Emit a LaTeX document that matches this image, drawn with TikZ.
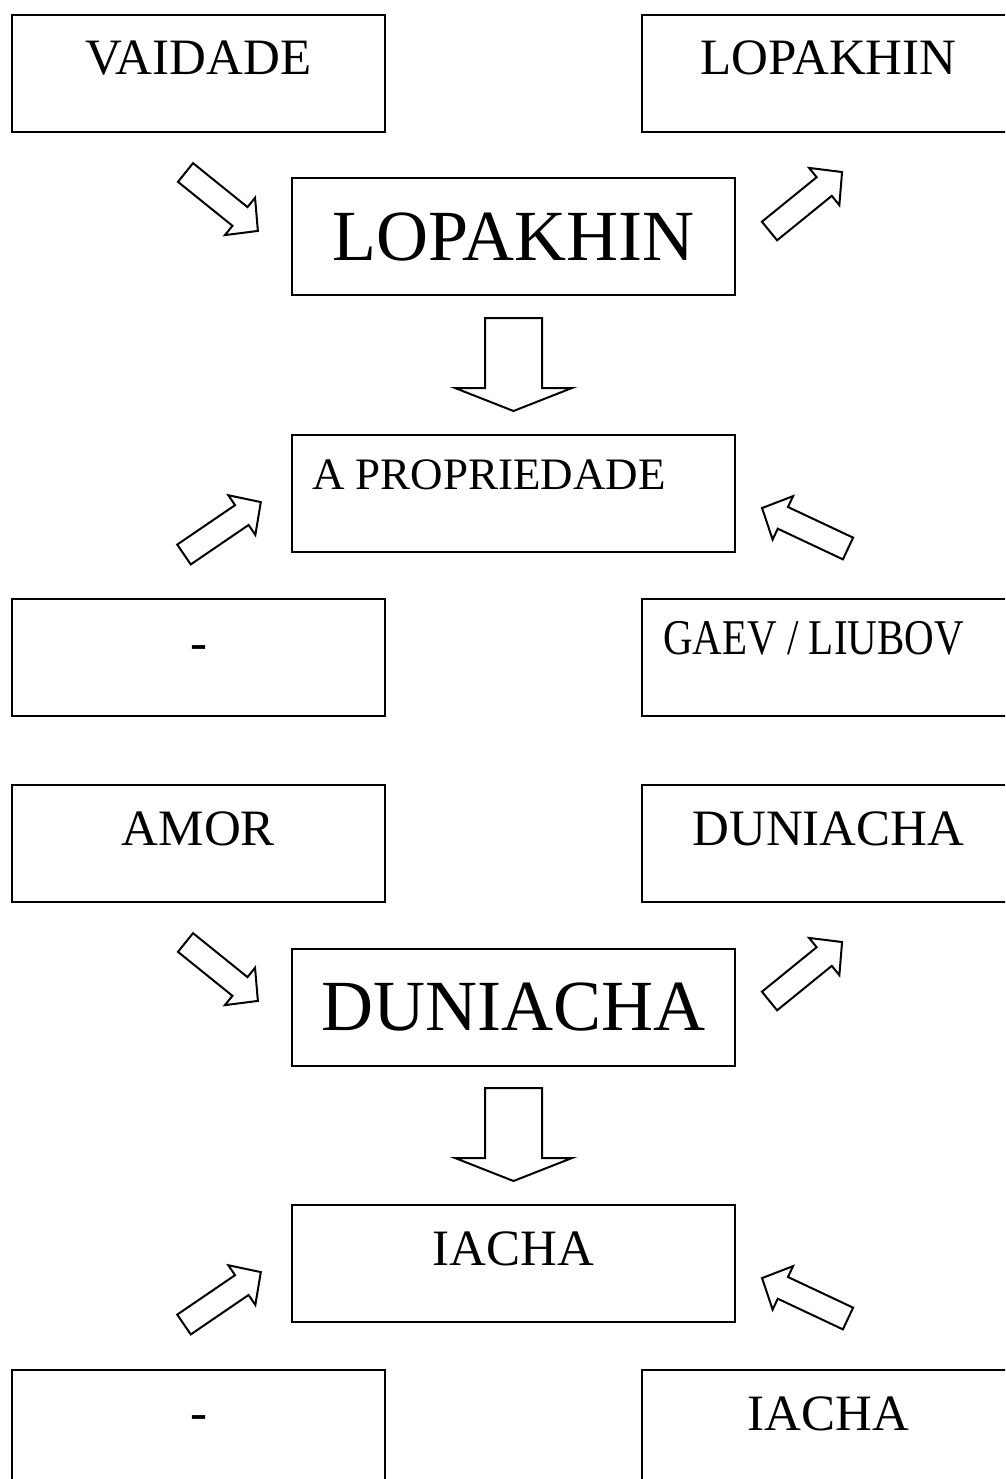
\documentclass[tikz,border=0pt]{standalone}
\usepackage{fontspec}
\setmainfont{Liberation Serif}
% hollow block arrow: tail, angle, length, shaft half width, head half width
\newcommand{\blockarr}[5]{%
  \draw[arrowshape, shift={#1}, rotate=#2] (0,-#4) -- (#3-23,-#4) -- (#3-23,-#5) -- (#3,0)
    -- (#3-23,#5) -- (#3-23,#4) -- (0,#4) -- cycle;}
\tikzset{
  box/.style={draw, line width=2pt, minimum height=117pt, inner sep=0pt},
  sidebox/.style={box, minimum width=373pt},
  midbox/.style={box, minimum width=443pt},
  txt/.style={inner sep=0pt, anchor=base, font=\fontsize{51}{60}\selectfont},
  bigtxt/.style={txt, font=\fontsize{72}{80}\selectfont},
  arrowshape/.style={line width=2pt, line join=miter}
}
\begin{document}
\begin{tikzpicture}[x=1pt, y=-1pt]
    \useasboundingbox (0,0) rectangle (1005,1479);
    \clip (0,0) rectangle (1005,1479);
    % upper part
    \node[sidebox] (vaid) at (198.5,73.5) {};
    \node[txt] (vaidT) at (198.5,75) {VAIDADE};
    \node[sidebox] (lopR) at (828.5,73.5) {};
    \node[txt] (lopRT) at (828.5,75) {LOPAKHIN};
    \node[midbox] (lop) at (513.5,236.5) {};
    \node[bigtxt] (lopT) at (513.5,260) {LOPAKHIN};
    \node[midbox] (prop) at (513.5,493) {};
    \node[txt, anchor=base west, font=\fontsize{45}{54}\selectfont] (propT) at (312,489) {A PROPRIEDADE};
    \node[sidebox] (dashA) at (198.5,657) {};
    \node[txt] (dashAT) at (198.5,659) {-};
    \node[sidebox] (gaev) at (828.5,657) {};
    \node[txt, anchor=base west, font=\fontsize{50}{60}\selectfont] (gaevT) at (663,654) {\scalebox{0.82}[1]{GAEV / LIUBOV}};
    % lower part
    \node[sidebox] (amor) at (198.5,843.5) {};
    \node[txt] (amorT) at (198.5,845) {AMOR};
    \node[sidebox] (duniR) at (828.5,843.5) {};
    \node[txt] (duniRT) at (828.5,845) {DUNIACHA};
    \node[midbox] (duni) at (513.5,1007) {};
    \node[bigtxt] (duniT) at (513.5,1030) {DUNIACHA};
    \node[midbox] (iacha) at (513.5,1263.5) {};
    \node[txt] (iachaT) at (513.5,1265) {IACHA};
    \node[sidebox] (dashB) at (198.5,1428.5) {};
    \node[txt] (dashBT) at (198.5,1429) {-};
    \node[sidebox] (iachaR) at (828.5,1428.5) {};
    \node[txt] (iachaRT) at (828.5,1430) {IACHA};
    % arrows, same for both parts
    \foreach \dy in {0,770}{
        \blockarr{(185.5,172.5+\dy)}{-38.9}{93}{12}{24}
        \blockarr{(769.5,231+\dy)}{39.1}{93.5}{12}{24}
        \blockarr{(513.5,318+\dy)}{-90}{93}{28.5}{58.5}
        \blockarr{(184,554.5+\dy)}{34.3}{93}{12}{24}
        \blockarr{(848,548.5+\dy)}{154.8}{95}{12}{24}
    }
\end{tikzpicture}
\end{document}
